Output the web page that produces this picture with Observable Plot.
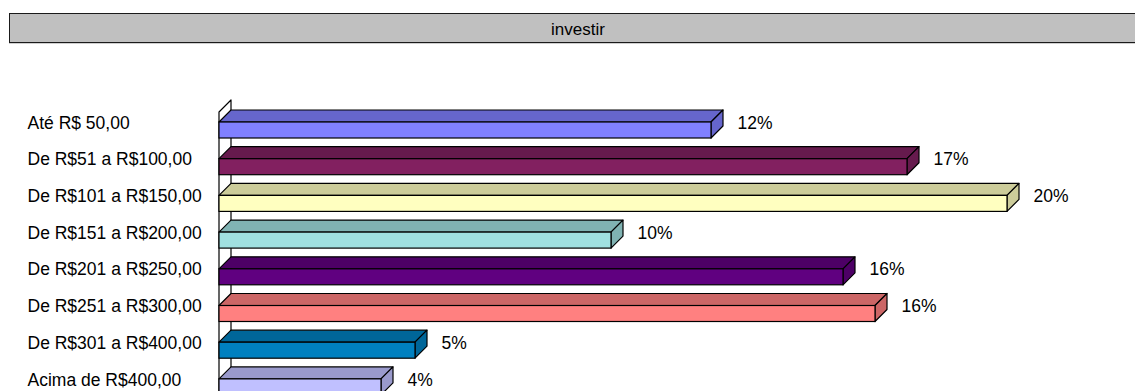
<!DOCTYPE html>
<html>
<head>
<meta charset="utf-8">
<script src="https://cdn.jsdelivr.net/npm/d3@7"></script>
<script src="https://cdn.jsdelivr.net/npm/@observablehq/plot@0.6"></script>
<style>
  html, body { margin: 0; padding: 0; background: #fff; overflow: hidden; width: 1135px; height: 391px; }
  #title { position: relative; height: 50px; overflow: hidden; }
  #title .bar { position: absolute; left: 9px; top: 13px; width: 1400px; height: 30px; box-sizing: border-box;
    background: #c0c0c0; border: 1.5px solid #1a1a1a; border-right: none; box-shadow: 0 1px 0 #cfcfcf; }
  #title .txt { position: absolute; left: 9px; width: 1138px; top: 13px; height: 30px;
    text-align: center; font: 17px "Liberation Sans", Arial, sans-serif; line-height: 34px; color: #000; }
  #chart svg { display: block; }
</style>
</head>
<body>
<div id="title"><div class="bar"></div><div class="txt">investir</div></div>
<div id="chart"></div>
<script>
// ---- data ----
const categories = [
  "Até R$ 50,00",
  "De R$51 a R$100,00",
  "De R$101 a R$150,00",
  "De R$151 a R$200,00",
  "De R$201 a R$250,00",
  "De R$251 a R$300,00",
  "De R$301 a R$400,00",
  "Acima de R$400,00"
];
const shares = [0.123, 0.172, 0.197, 0.098, 0.156, 0.164, 0.049, 0.0405];

// ---- styles ----
const frontColors = ["#8080ff", "#822060", "#ffffc0", "#a0e0e0", "#600080", "#ff8080", "#0080c0", "#c0c0ff"];
const depthColors = ["#6666cc", "#661a4d", "#cccc9a", "#80b3b3", "#4d0066", "#cc6666", "#006699", "#9a9acc"];
const depth = 12;
const wallRise = 10;
const font = "'Liberation Sans', Arial, sans-serif";

const rows = categories.map((c, i) => ({cat: c, value: shares[i]}));
const pct = d3.format(".0%");

function depthMark(index, scales, values, dimensions) {
  const x = scales.x, y = scales.y;
  const bw = typeof y.bandwidth === "function" ? y.bandwidth() : 16;
  const x0 = x(0);
  const bottom = dimensions.height + 30;
  const g = d3.create("svg:g")
    .attr("stroke", "#000").attr("stroke-width", 1.2).attr("stroke-linejoin", "round");
  const yTop = y(categories[0]) - wallRise;
  g.append("path").attr("fill", "#fff")
    .attr("d", `M${x0},${bottom}V${yTop}L${x0 + depth},${yTop - depth}V${bottom}`);
  categories.forEach((c, i) => {
    const y0 = y(c), x1 = x(shares[i]);
    g.append("path").attr("fill", depthColors[i])
      .attr("d", `M${x0},${y0}L${x0 + depth},${y0 - depth}H${x1 + depth}L${x1},${y0}Z`);
    g.append("path").attr("fill", depthColors[i])
      .attr("d", `M${x1},${y0}L${x1 + depth},${y0 - depth}V${y0 + bw - depth}L${x1},${y0 + bw}Z`);
  });
  return g.node();
}

const chart = Plot.plot({
  width: 1135,
  height: 341,
  marginLeft: 0, marginRight: 0, marginTop: 0, marginBottom: 0,
  style: {fontFamily: font, background: "white", color: "#000", overflow: "hidden"},
  x: {domain: [0, 0.2], range: [219, 1019], axis: null},
  y: {domain: categories, range: [72, 344.9], paddingInner: 0.564, paddingOuter: 0, round: false, axis: null},
  color: {domain: categories, range: frontColors},
  marks: [
    depthMark,
    Plot.barX(rows, {x: "value", y: "cat", fill: "cat", stroke: "#000", strokeWidth: 1.2}),
    Plot.text(categories, {y: d => d, text: d => d, frameAnchor: "left", dx: 27, dy: -7.5,
      textAnchor: "start", fontSize: 17.5, fill: "#000"}),
    Plot.text(rows, {x: "value", y: "cat", text: d => pct(d.value), dx: 26, dy: -7.5,
      textAnchor: "start", fontSize: 17.5, fill: "#000"})
  ]
});
document.getElementById("chart").appendChild(chart);
</script>
</body>
</html>
